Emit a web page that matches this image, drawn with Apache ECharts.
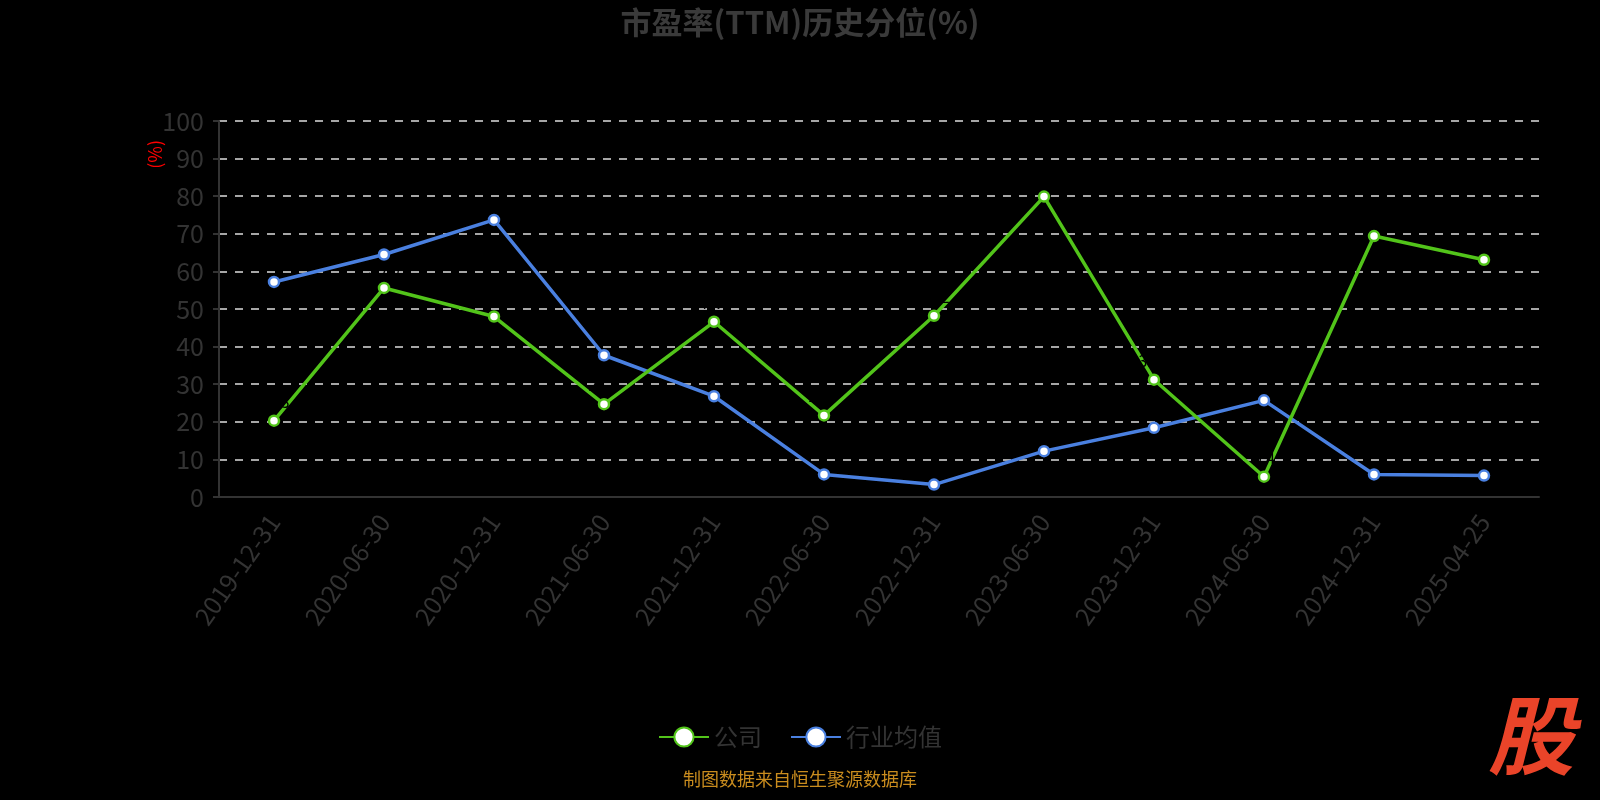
<!DOCTYPE html>
<html>
<head>
<meta charset="utf-8">
<script src="https://cdn.jsdelivr.net/npm/echarts@6/dist/echarts.min.js"></script>
<style>html,body{margin:0;padding:0;background:#000;}#c{width:1600px;height:800px;}</style>
</head>
<body>
<div id="c"></div>
<script>
var categories = ['2019-12-31','2020-06-30','2020-12-31','2021-06-30','2021-12-31','2022-06-30','2022-12-31','2023-06-30','2023-12-31','2024-06-30','2024-12-31','2025-04-25'];
var companyValues = [20.3, 55.6, 48.0, 24.7, 46.6, 21.7, 48.2, 79.9, 31.2, 5.4, 69.4, 63.1];
var industryValues = [57.2, 64.5, 73.7, 37.7, 26.8, 6.0, 3.3, 12.2, 18.4, 25.7, 6.0, 5.7];
var seriesNames = ['公司', '行业均值'];
var titleText = '市盈率(TTM)历史分位(%)';
var footerText = '制图数据来自恒生聚源数据库';

var font = '"Noto Sans CJK SC", "Noto Sans", sans-serif';
var chart = echarts.init(document.getElementById('c'));
chart.setOption({
  backgroundColor: '#000',
  textStyle: {fontFamily: font},
  title: {
    text: titleText, left: 'center', top: 2,
    textStyle: {color: '#3a3a3a', fontSize: 31, fontWeight: 'bold', fontFamily: font}
  },
  legend: {
    bottom: 46, left: 'center',
    itemWidth: 50, itemHeight: 24, itemGap: 28,
    textStyle: {color: '#333', fontSize: 24, fontFamily: font},
    data: seriesNames
  },
  grid: {left: 219, right: 61, top: 121, bottom: 303, containLabel: false},
  xAxis: {
    type: 'category', data: categories, boundaryGap: true,
    axisLine: {lineStyle: {color: '#333', width: 2}},
    axisTick: {lineStyle: {color: '#333', width: 2}, length: 6},
    axisLabel: {color: '#333', fontSize: 25, rotate: 55, margin: 20, fontFamily: font}
  },
  yAxis: {
    type: 'value', min: 0, max: 100, interval: 10,
    axisLine: {show: true, lineStyle: {color: '#333', width: 2}},
    axisTick: {show: true, lineStyle: {color: '#333', width: 2}, length: 6},
    axisLabel: {color: '#333', fontSize: 25, margin: 15, fontFamily: font},
    splitLine: {show: true, lineStyle: {color: '#ddd', type: [8, 8], width: 1.5}}
  },
  graphic: [
    {type: 'text', left: 146, top: 140, rotation: Math.PI / 2,
     style: {text: '(%)', fill: '#ff0000', fontSize: 18, fontFamily: font}},
    {type: 'text', left: 'center', top: 770,
     style: {text: footerText, fill: '#c98c1e', fontSize: 18, fontFamily: font}},
    {type: 'text', left: 1488, top: 692,
     style: {text: '股', fill: '#ea4429', fontSize: 86, fontWeight: 'bold', fontStyle: 'italic', fontFamily: font}}
  ],
  series: [
    {
      name: seriesNames[0], type: 'line', data: companyValues,
      symbol: 'circle', symbolSize: 10,
      lineStyle: {color: '#52c41a', width: 3.5},
      itemStyle: {color: '#fff', borderColor: '#52c41a', borderWidth: 2.5},
      label: {show: true, position: 'top', color: '#000', fontSize: 16},
      z: 3
    },
    {
      name: seriesNames[1], type: 'line', data: industryValues,
      symbol: 'circle', symbolSize: 10,
      lineStyle: {color: '#4a80e0', width: 3.5},
      itemStyle: {color: '#fff', borderColor: '#4a80e0', borderWidth: 2.5},
      z: 2
    }
  ]
});
</script>
</body>
</html>
